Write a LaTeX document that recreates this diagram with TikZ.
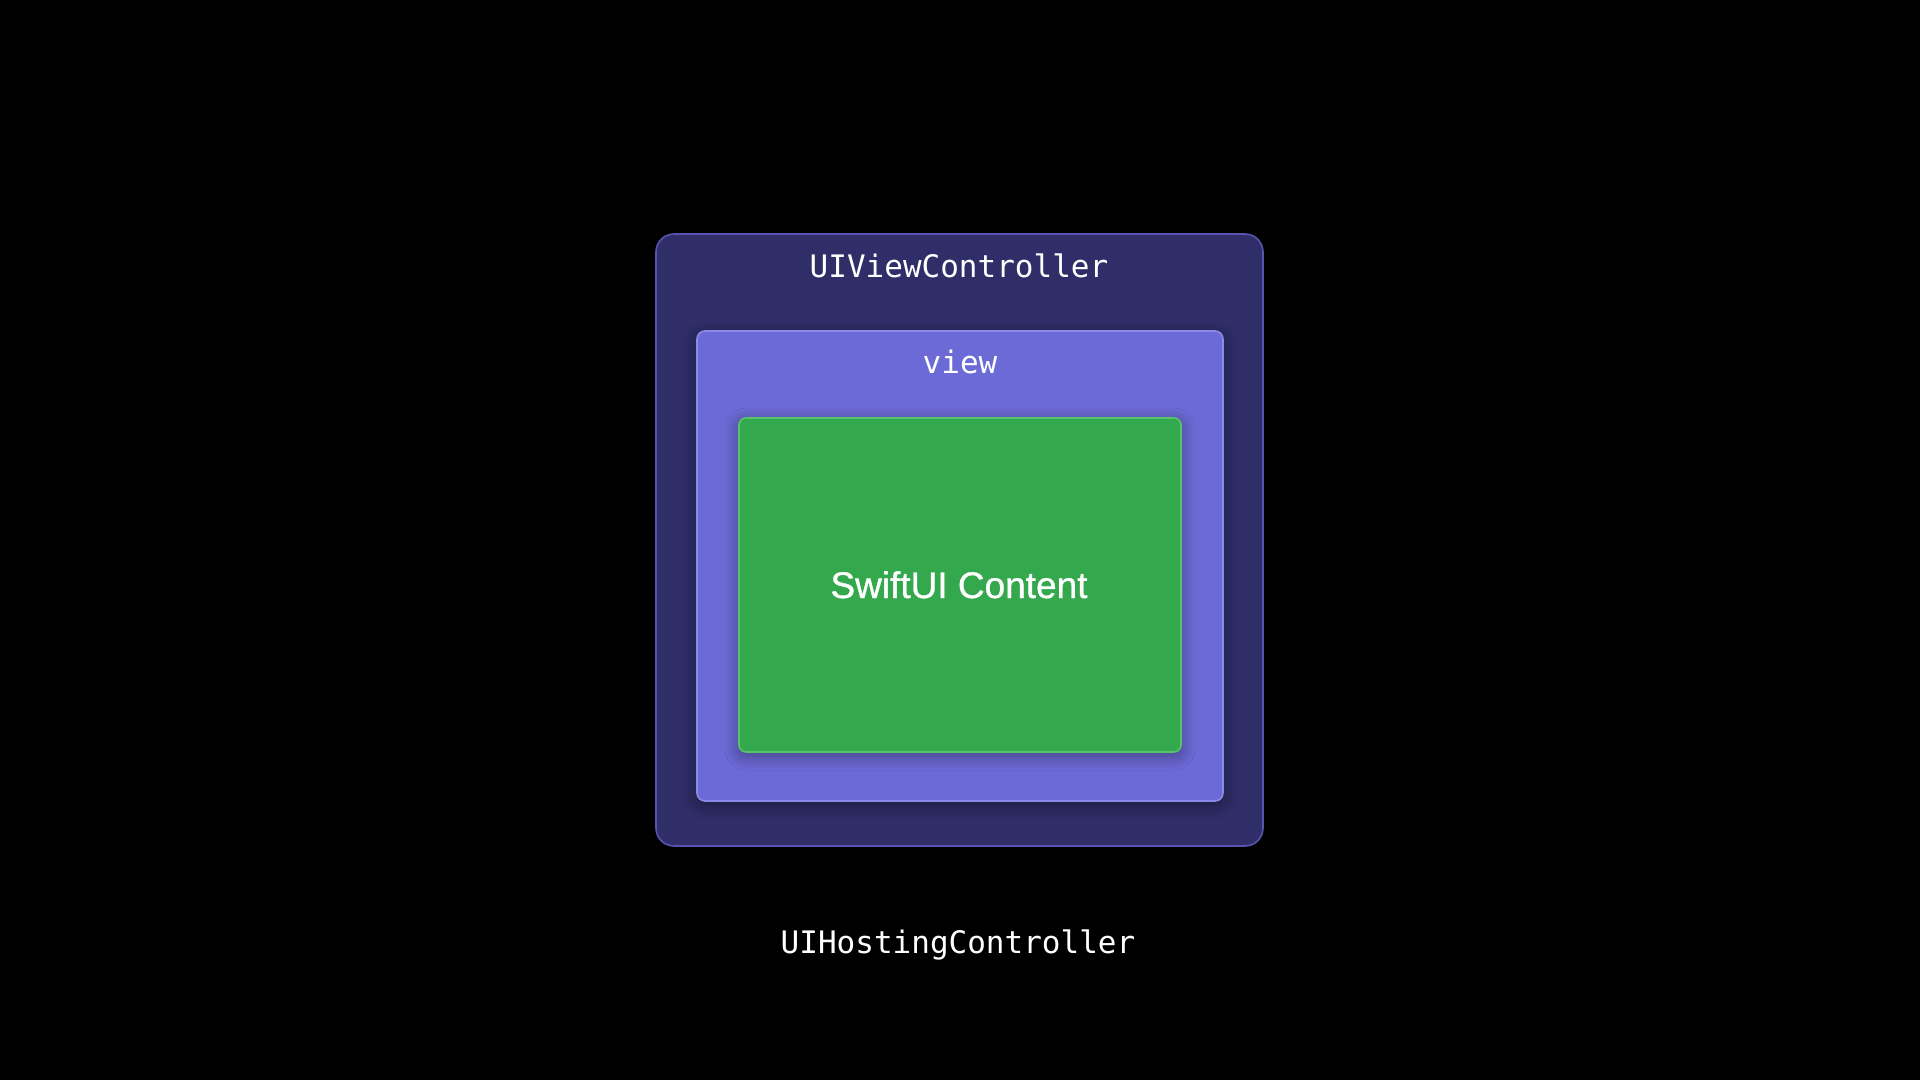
\documentclass[tikz,border=0pt]{standalone}
\usepackage{fontspec}
\setmainfont{Liberation Sans}
\newfontfamily\codefont{DejaVu Sans Mono}
\newfontfamily\bodyfont[FakeBold=0.9]{Liberation Sans}
\usetikzlibrary{shadows.blur}

\definecolor{ctrlfill}{HTML}{2F2E68}
\definecolor{ctrledge}{HTML}{5853B0}
\definecolor{viewfill}{HTML}{6C6AD6}
\definecolor{viewedge}{HTML}{8C8AE8}
\definecolor{contentfill}{HTML}{34A84D}
\definecolor{contentedge}{HTML}{55C46A}

\tikzset{
  panel/.style={rectangle, inner sep=0pt, line width=1.6pt},
  softshadow/.style={blur shadow={shadow xshift=0pt, shadow yshift=-4pt,
      shadow blur radius=14pt, shadow blur steps=14, shadow opacity=40}},
  codelabel/.style={text=white, inner sep=0pt, anchor=base,
      font=\codefont\fontsize{31}{37}\selectfont},
  bodylabel/.style={text=white, inner sep=0pt, anchor=base,
      font=\bodyfont\fontsize{37}{44}\selectfont}
}

\begin{document}
\begin{tikzpicture}[x=1pt, y=-1pt]
  \useasboundingbox[fill=black] (0,0) rectangle (1920,1080);

  % view controller container
  \node[panel, fill=ctrlfill, draw=ctrledge, rounded corners=18pt,
        minimum width=607pt, minimum height=612pt] (ctrl) at (959.5,540) {};
  % its root view
  \node[panel, softshadow, fill=viewfill, draw=viewedge, rounded corners=8pt,
        minimum width=526pt, minimum height=470pt] (view) at (960,566) {};
  % hosted SwiftUI content
  \node[panel, softshadow, fill=contentfill, draw=contentedge, rounded corners=7pt,
        minimum width=442pt, minimum height=334pt] (content) at (960,585) {};

  \node[codelabel] (ctrllabel) at (959,277) {UIViewController};
  \node[codelabel] (viewlabel) at (960,373) {view};
  \node[bodylabel] (contentlabel) at (959,598) {SwiftUI Content};
  \node[codelabel] (hostlabel) at (958,953) {UIHostingController};
\end{tikzpicture}
\end{document}
